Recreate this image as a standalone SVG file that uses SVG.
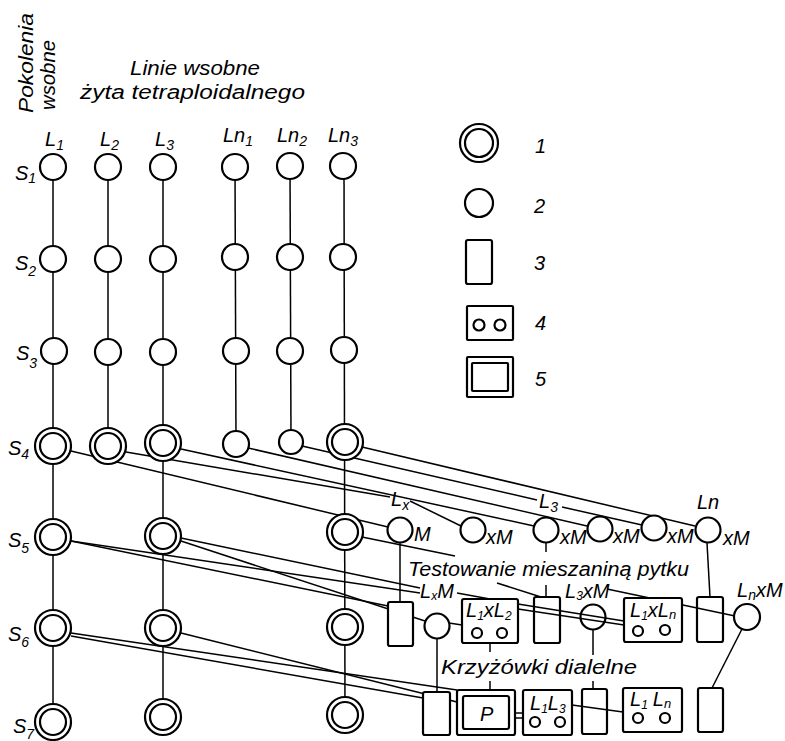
<svg xmlns="http://www.w3.org/2000/svg" width="785" height="741" viewBox="0 0 785 741">
<style>
.n{fill:#fff;stroke:#000;stroke-width:2.2}
.o{fill:none;stroke:#000;stroke-width:2.2}
.c{fill:none;stroke:#000;stroke-width:1.5}
.t{font-family:"Liberation Sans",Arial,sans-serif;font-style:italic;fill:#000;font-size:20px}
</style>
<defs>
<g id="dbl"><circle class="n" r="18"/><circle class="n" r="13"/></g>
<g id="sgl"><circle class="n" r="13"/></g>
</defs>
<rect width="785" height="741" fill="#fff"/>

<!-- headers -->
<text class="t" font-size="24" transform="translate(33,113) rotate(-90)" textLength="100" lengthAdjust="spacingAndGlyphs">Pokolenia</text>
<text class="t" font-size="24" transform="translate(55,110) rotate(-90)" textLength="70" lengthAdjust="spacingAndGlyphs">wsobne</text>
<text class="t" x="130" y="75" font-size="23" textLength="130" lengthAdjust="spacingAndGlyphs">Linie wsobne</text>
<text class="t" x="80" y="99" font-size="23" textLength="225" lengthAdjust="spacingAndGlyphs">żyta tetraploidalnego</text>

<!-- column labels -->
<text class="t" x="45" y="146" font-size="22">L<tspan font-size="14" dy="4">1</tspan></text>
<text class="t" x="100" y="146" font-size="22">L<tspan font-size="14" dy="4">2</tspan></text>
<text class="t" x="155" y="146" font-size="22">L<tspan font-size="14" dy="4">3</tspan></text>
<text class="t" x="223" y="142" font-size="22">Ln<tspan font-size="14" dy="4">1</tspan></text>
<text class="t" x="277" y="142" font-size="22">Ln<tspan font-size="14" dy="4">2</tspan></text>
<text class="t" x="328" y="142" font-size="22">Ln<tspan font-size="14" dy="4">3</tspan></text>

<!-- row labels -->
<text class="t" x="15" y="180" font-size="24">S<tspan font-size="14" dy="3">1</tspan></text>
<text class="t" x="15" y="270" font-size="24">S<tspan font-size="14" dy="6">2</tspan></text>
<text class="t" x="16" y="360" font-size="24">S<tspan font-size="14" dy="8">3</tspan></text>
<text class="t" x="8" y="455" font-size="24">S<tspan font-size="14" dy="4">4</tspan></text>
<text class="t" x="8" y="547" font-size="24">S<tspan font-size="14" dy="6">5</tspan></text>
<text class="t" x="8" y="641" font-size="24">S<tspan font-size="14" dy="6">6</tspan></text>
<text class="t" x="13" y="733" font-size="24">S<tspan font-size="14" dy="6">7</tspan></text>

<!-- connectors -->
<g id="connectors" class="c">
<line x1="53" y1="167" x2="53" y2="722"/>
<line x1="108" y1="167" x2="108" y2="446"/>
<line x1="163" y1="167" x2="163" y2="717"/>
<line x1="235" y1="167" x2="236" y2="444"/>
<line x1="290" y1="167" x2="291" y2="442"/>
<line x1="344" y1="167" x2="345" y2="715"/>
<!-- S4 to M row -->
<line x1="71" y1="451" x2="388" y2="527"/>
<line x1="126" y1="452" x2="390" y2="497"/>
<line x1="410" y1="501" x2="461" y2="526"/>
<line x1="181" y1="449" x2="534" y2="526"/>
<line x1="248" y1="448" x2="587" y2="526"/>
<line x1="302" y1="446" x2="537" y2="500"/>
<line x1="562" y1="507" x2="642" y2="525"/>
<line x1="362" y1="447" x2="695" y2="526"/>
<!-- M row verticals -->
<line x1="400" y1="543" x2="400" y2="602"/>
<line x1="546" y1="543" x2="546" y2="552"/>
<line x1="546" y1="585" x2="546" y2="597"/>
<line x1="707" y1="543" x2="710" y2="597"/>
<!-- S5 lines -->
<line x1="71" y1="541" x2="388" y2="606"/>
<line x1="71" y1="541" x2="420" y2="593"/>
<line x1="181" y1="538" x2="420" y2="588"/>
<line x1="181" y1="541" x2="425" y2="621"/>
<line x1="362" y1="537" x2="455" y2="556"/>
<line x1="497" y1="583" x2="541" y2="597"/>
<line x1="449" y1="623" x2="462" y2="625"/>
<line x1="457" y1="593" x2="490" y2="599"/>
<line x1="518" y1="604" x2="624" y2="621"/>
<line x1="518" y1="609" x2="624" y2="625"/>
<line x1="607" y1="589" x2="735" y2="616"/>
<!-- to diallel row -->
<line x1="437" y1="638" x2="437" y2="692"/>
<line x1="490" y1="643" x2="490" y2="652"/>
<line x1="490" y1="681" x2="490" y2="690"/>
<line x1="593" y1="629" x2="593" y2="655"/>
<line x1="593" y1="681" x2="593" y2="689"/>
<line x1="742" y1="629" x2="712" y2="688"/>
<!-- S6 lines -->
<line x1="71" y1="633" x2="457" y2="690"/>
<line x1="71" y1="636" x2="423" y2="698"/>
<line x1="181" y1="633" x2="457" y2="702"/>
<line x1="515" y1="713" x2="523" y2="713"/>
<line x1="515" y1="718" x2="523" y2="718"/>
<line x1="572" y1="705" x2="623" y2="712"/>
</g>

<!-- nodes -->
<g id="L1S1" transform="translate(53,167)"><use href="#sgl"/></g>
<g id="L2S1" transform="translate(108,167)"><use href="#sgl"/></g>
<g id="L3S1" transform="translate(163,167)"><use href="#sgl"/></g>
<g id="Ln1S1" transform="translate(235,167)"><use href="#sgl"/></g>
<g id="Ln2S1" transform="translate(290,166)"><use href="#sgl"/></g>
<g id="Ln3S1" transform="translate(343,166)"><use href="#sgl"/></g>

<g id="L1S2" transform="translate(53,259)"><use href="#sgl"/></g>
<g id="L2S2" transform="translate(108,259)"><use href="#sgl"/></g>
<g id="L3S2" transform="translate(163,259)"><use href="#sgl"/></g>
<g id="Ln1S2" transform="translate(235,257)"><use href="#sgl"/></g>
<g id="Ln2S2" transform="translate(290,257)"><use href="#sgl"/></g>
<g id="Ln3S2" transform="translate(343,257)"><use href="#sgl"/></g>

<g id="L1S3" transform="translate(54,351)"><use href="#sgl"/></g>
<g id="L2S3" transform="translate(108,352)"><use href="#sgl"/></g>
<g id="L3S3" transform="translate(163,352)"><use href="#sgl"/></g>
<g id="Ln1S3" transform="translate(236,351)"><use href="#sgl"/></g>
<g id="Ln2S3" transform="translate(290,351)"><use href="#sgl"/></g>
<g id="Ln3S3" transform="translate(344,350)"><use href="#sgl"/></g>

<g id="L1S4" transform="translate(53,446)"><use href="#dbl"/></g>
<g id="L2S4" transform="translate(108,446)"><use href="#dbl"/></g>
<g id="L3S4" transform="translate(163,443)"><use href="#dbl"/></g>
<g id="Ln1S4" transform="translate(236,444)"><use href="#sgl"/></g>
<g id="Ln2S4" transform="translate(291,442)"><circle class="n" r="12"/></g>
<g id="Ln3S4" transform="translate(345,442)"><use href="#dbl"/></g>

<g id="L1S5" transform="translate(53,537)"><use href="#dbl"/></g>
<g id="L3S5" transform="translate(163,536)"><use href="#dbl"/></g>
<g id="Ln3S5" transform="translate(345,532)"><use href="#dbl"/></g>

<g id="L1S6" transform="translate(53,628)"><use href="#dbl"/></g>
<g id="L3S6" transform="translate(163,628)"><use href="#dbl"/></g>
<g id="Ln3S6" transform="translate(345,627)"><use href="#dbl"/></g>

<g id="L1S7" transform="translate(53,722)"><use href="#dbl"/></g>
<g id="L3S7" transform="translate(163,717)"><use href="#dbl"/></g>
<g id="Ln3S7" transform="translate(345,715)"><use href="#dbl"/></g>

<!-- M row -->
<g id="M1" transform="translate(400,530)"><circle class="n" r="12.5"/></g>
<g id="M2" transform="translate(473,530)"><circle class="n" r="12.5"/></g>
<g id="M3" transform="translate(546,530)"><circle class="n" r="12.5"/></g>
<g id="M4" transform="translate(600,529)"><circle class="n" r="12.5"/></g>
<g id="M5" transform="translate(654,528)"><circle class="n" r="12.5"/></g>
<g id="M6" transform="translate(708,530)"><circle class="n" r="12.5"/></g>
<text class="t" x="414" y="541" font-size="19">M</text>
<text class="t" x="486" y="544" font-size="19">xM</text>
<text class="t" x="560" y="544" font-size="19">xM</text>
<text class="t" x="613" y="543" font-size="19">xM</text>
<text class="t" x="667" y="543" font-size="19">xM</text>
<text class="t" x="723" y="545" font-size="19">xM</text>
<text class="t" x="391" y="506" font-size="20">L<tspan font-size="14" dy="4">x</tspan></text>
<text class="t" x="539" y="508" font-size="20">L<tspan font-size="14" dy="4">3</tspan></text>
<text class="t" x="697" y="509" font-size="20">Ln</text>

<text class="t" x="408" y="576" font-size="20" textLength="281" lengthAdjust="spacingAndGlyphs">Testowanie mieszaniną pytku</text>
<text class="t" x="441" y="674" font-size="21" textLength="196" lengthAdjust="spacingAndGlyphs">Krzyżówki dialelne</text>

<!-- testing row -->
<g id="A1"><rect class="n" x="388" y="602" width="25" height="44" rx="2"/></g>
<g id="LxM"><circle class="n" cx="437" cy="626" r="12.5"/></g>
<text class="t" x="420" y="598" font-size="17">L<tspan font-size="12" dy="2">x</tspan><tspan dy="-2">M</tspan></text>
<g id="L1xL2"><rect class="n" x="462" y="599" width="56" height="44" rx="2"/>
<circle class="n" cx="477" cy="633" r="5" stroke-width="1.8"/><circle class="n" cx="502" cy="633" r="5" stroke-width="1.8"/></g>
<text class="t" x="466" y="617" font-size="18">L<tspan font-size="12" dy="3">1</tspan><tspan dy="-3">xL</tspan><tspan font-size="12" dy="3">2</tspan></text>
<g id="A3"><rect class="o" x="534" y="597" width="26" height="46" rx="2"/></g>
<g id="L3xM"><circle class="o" cx="593" cy="617" r="12.5"/></g>
<text class="t" x="565" y="598" font-size="17">L<tspan font-size="12" dy="2">3</tspan><tspan dy="-2">xM</tspan></text>
<g id="L1xLn"><rect class="n" x="624" y="598" width="58" height="44" rx="2"/>
<circle class="n" cx="638" cy="631" r="5" stroke-width="1.8"/><circle class="n" cx="665" cy="630" r="5" stroke-width="1.8"/></g>
<text class="t" x="630" y="617" font-size="18">L<tspan font-size="12" dy="3">1</tspan><tspan dy="-3">xL</tspan><tspan font-size="13" dy="2">n</tspan></text>
<g id="A5"><rect class="o" x="697" y="597" width="26" height="45" rx="2"/></g>
<g id="LnxM"><circle class="n" cx="747" cy="617" r="13"/></g>
<text class="t" x="737" y="597" font-size="18">L<tspan font-size="14" dy="3">n</tspan><tspan dy="-3">xM</tspan></text>

<!-- diallel row -->
<g id="B1"><rect class="n" x="423" y="692" width="27" height="43" rx="2"/></g>
<g id="P"><rect class="n" x="457" y="690" width="58" height="45" rx="2"/><rect class="n" x="463" y="696" width="46" height="33" rx="2"/>
<text class="t" x="480" y="721" font-size="22">P</text></g>
<g id="L1L3"><rect class="n" x="523" y="690" width="49" height="45" rx="2"/>
<circle class="n" cx="535" cy="722" r="5" stroke-width="1.8"/><circle class="n" cx="560" cy="722" r="5" stroke-width="1.8"/>
<text class="t" x="530" y="710" font-size="18">L<tspan font-size="12" dy="3">1</tspan><tspan dy="-3">L</tspan><tspan font-size="12" dy="3">3</tspan></text></g>
<g id="B4"><rect class="o" x="582" y="689" width="25" height="45" rx="2"/></g>
<g id="L1Ln"><rect class="n" x="623" y="688" width="59" height="44" rx="2"/>
<circle class="n" cx="638" cy="718" r="5" stroke-width="1.8"/><circle class="n" cx="665" cy="718" r="5" stroke-width="1.8"/>
<text class="t" x="630" y="706" font-size="18">L<tspan font-size="12" dy="3">1</tspan><tspan dx="5" dy="-3">L</tspan><tspan font-size="13" dy="2">n</tspan></text></g>
<g id="B6"><rect class="n" x="698" y="688" width="25" height="44" rx="2"/></g>

<!-- legend -->
<g id="legend">
<g id="leg1" transform="translate(479,143)"><circle class="n" r="19"/><circle class="n" r="14"/></g>
<g id="leg2" transform="translate(479,203)"><circle class="n" r="14"/></g>
<g id="leg3"><rect class="n" x="466" y="240" width="26" height="44" rx="2"/></g>
<g id="leg4"><rect class="n" x="467" y="306" width="46" height="34" rx="1"/><circle class="n" cx="479" cy="325" r="5.5" stroke-width="1.8"/><circle class="n" cx="500" cy="325" r="5.5" stroke-width="1.8"/></g>
<g id="leg5"><rect class="n" x="467" y="357" width="46" height="40" rx="1"/><rect class="n" x="472" y="363" width="36" height="28" rx="1"/></g>
<text class="t" x="535" y="153" font-size="21">1</text>
<text class="t" x="534" y="213" font-size="21">2</text>
<text class="t" x="534" y="270" font-size="21">3</text>
<text class="t" x="535" y="330" font-size="21">4</text>
<text class="t" x="535" y="386" font-size="21">5</text>
</g>
</svg>
